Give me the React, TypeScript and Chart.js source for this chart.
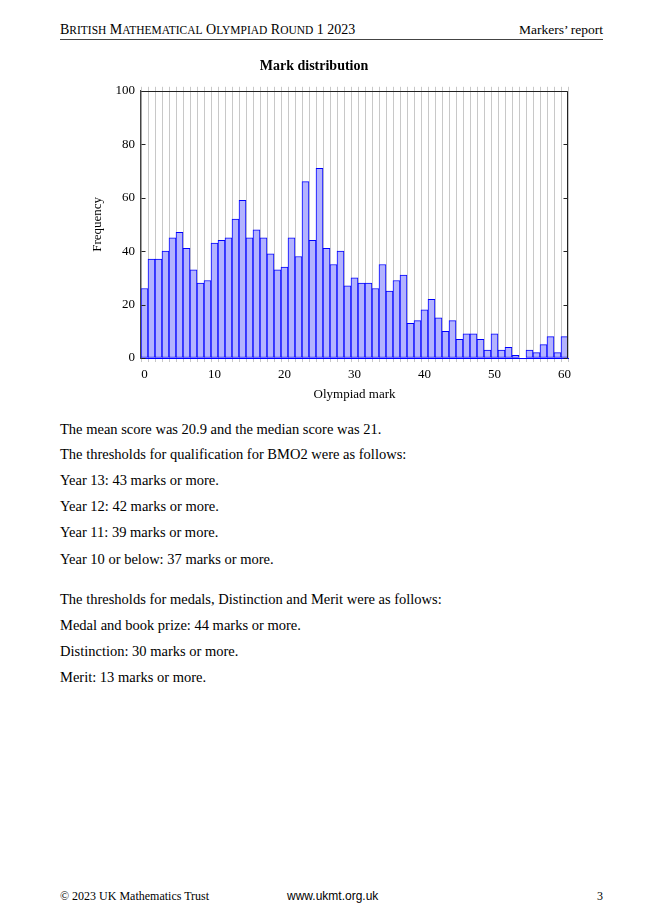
import React, { useEffect, useRef } from "react";
import { Chart, registerables } from "chart.js";

Chart.register(...registerables);

const marks: string[] = [
  "0","1","2","3","4","5","6","7","8","9",
  "10","11","12","13","14","15","16","17","18","19",
  "20","21","22","23","24","25","26","27","28","29",
  "30","31","32","33","34","35","36","37","38","39",
  "40","41","42","43","44","45","46","47","48","49",
  "50","51","52","53","54","55","56","57","58","59","60",
];

const frequency: number[] = [
  26, 37, 37, 40, 45, 47, 41, 33, 28, 29,
  43, 44, 45, 52, 59, 45, 48, 45, 39, 33,
  34, 45, 38, 66, 44, 71, 41, 35, 40, 27,
  30, 28, 28, 26, 35, 25, 29, 31, 13, 14,
  18, 22, 15, 10, 14, 7, 9, 9, 7, 3,
  9, 3, 4, 1, 0, 3, 2, 5, 8, 2, 8,
];

const xTickLabels: string[] = ["0", "10", "20", "30", "40", "50", "60"];
const yTicks: number[] = [0, 20, 40, 60, 80, 100];

const SERIF = "'Liberation Serif', 'Times New Roman', serif";

const framePlugin = {
  id: "frame",
  afterDraw(chart: any) {
    const { ctx, chartArea: a, scales } = chart;
    const x = scales.x;
    const y = scales.y;
    ctx.save();
    const step = x.getPixelForValue(1) - x.getPixelForValue(0);
    ctx.strokeStyle = "#c8c8c8";
    ctx.lineWidth = 1;
    ctx.beginPath();
    for (let i = 0; i <= marks.length; i++) {
      const px = Math.round(x.getPixelForValue(i) - step / 2) + 0.5;
      ctx.moveTo(px, a.top - 4);
      ctx.lineTo(px, a.top);
    }
    ctx.stroke();
    ctx.strokeStyle = "#222";
    ctx.beginPath();
    const l = Math.round(a.left) + 0.5;
    const r = Math.round(a.right) - 0.5;
    const t = Math.round(a.top) + 0.5;
    const b = Math.round(a.bottom);
    ctx.moveTo(r, b);
    ctx.lineTo(r, t);
    ctx.lineTo(l, t);
    yTicks.forEach((v) => {
      const py = Math.round(y.getPixelForValue(v)) + 0.5;
      ctx.moveTo(l, py);
      ctx.lineTo(l + 4, py);
      ctx.moveTo(r, py);
      ctx.lineTo(r - 4, py);
    });
    ctx.stroke();
    ctx.restore();
  },
};

function MarkChart() {
  const ref = useRef<HTMLCanvasElement | null>(null);
  useEffect(() => {
    if (!ref.current) return;
    const chart = new Chart(ref.current, {
      type: "bar",
      data: {
        labels: marks,
        datasets: [
          {
            data: frequency,
            backgroundColor: "#b3b3ff",
            borderColor: "#0000ff",
            borderWidth: 1,
            borderSkipped: false,
            barPercentage: 1,
            categoryPercentage: 1,
          },
        ],
      },
      options: {
        responsive: false,
        animation: false,
        devicePixelRatio: 1,
        layout: { padding: { left: 0, right: 34, top: 0, bottom: 0 } },
        plugins: {
          legend: { display: false },
          tooltip: { enabled: false },
          title: {
            display: true,
            text: "Mark distribution",
            color: "#000",
            font: { family: SERIF, size: 14, weight: "bold" },
            padding: { top: 8, bottom: 16 },
          },
        },
        scales: {
          x: {
            offset: true,
            grid: {
              color: "#c8c8c8",
              drawTicks: true,
              tickLength: 4,
              tickColor: "#c8c8c8",
              offset: true,
              lineWidth: 1,
            },
            border: { color: "#0000ff", width: 1 },
            ticks: {
              autoSkip: false,
              maxRotation: 0,
              padding: 5,
              color: "#000",
              font: { family: SERIF, size: 13 },
              callback: (_v: any, i: number) =>
                xTickLabels.includes(marks[i]) ? marks[i] : "",
            },
            title: {
              display: true,
              text: "Olympiad mark",
              color: "#000",
              font: { family: SERIF, size: 13 },
              padding: { top: 0, bottom: 8 },
            },
            afterFit: (s: any) => {
              s.height = 52;
            },
          },
          y: {
            min: 0,
            max: 100,
            grid: { display: true, drawOnChartArea: false, drawTicks: false },
            border: { color: "#444", width: 1.3 },
            ticks: {
              stepSize: 20,
              padding: 6,
              color: "#000",
              font: { family: SERIF, size: 13 },
            },
            title: {
              display: true,
              text: "Frequency",
              color: "#000",
              font: { family: SERIF, size: 13 },
              padding: { top: 30, bottom: 0 },
            },
            afterFit: (s: any) => {
              s.width = 81;
            },
          },
        },
      },
      plugins: [framePlugin],
    } as any);
    return () => chart.destroy();
  }, []);
  return (
    <canvas
      ref={ref}
      width={542}
      height={360}
      style={{ position: "absolute", left: 60, top: 50, width: 542, height: 360 }}
    />
  );
}

const bodyLines: { text: string; y: number }[] = [
  { text: "The mean score was 20.9 and the median score was 21.", y: 430 },
  { text: "The thresholds for qualification for BMO2 were as follows:", y: 455 },
  { text: "Year 13: 43 marks or more.", y: 481 },
  { text: "Year 12: 42 marks or more.", y: 507 },
  { text: "Year 11: 39 marks or more.", y: 533 },
  { text: "Year 10 or below: 37 marks or more.", y: 560 },
  { text: "The thresholds for medals, Distinction and Merit were as follows:", y: 600 },
  { text: "Medal and book prize: 44 marks or more.", y: 626 },
  { text: "Distinction: 30 marks or more.", y: 652 },
  { text: "Merit: 13 marks or more.", y: 678 },
];

const headerWords: string[] = ["British", "Mathematical", "Olympiad", "Round", "1", "2023"];

function SmallCaps({ words }: { words: string[] }) {
  return (
    <>
      {words.map((w, i) => {
        const isNum = /^[0-9]+$/.test(w);
        return (
          <React.Fragment key={i}>
            {i > 0 ? " " : ""}
            {isNum ? (
              w
            ) : (
              <>
                {w[0]}
                <span style={{ fontSize: "0.82em" }}>{w.slice(1).toUpperCase()}</span>
              </>
            )}
          </React.Fragment>
        );
      })}
    </>
  );
}

export default function App() {
  const txt = (extra: React.CSSProperties): React.CSSProperties => ({
    position: "absolute",
    whiteSpace: "nowrap",
    fontFamily: SERIF,
    color: "#000",
    ...extra,
  });
  return (
    <div style={{ position: "relative", width: 656, height: 917, background: "#fff", overflow: "hidden" }}>
      <style>{`body{margin:0}`}</style>
      <div style={txt({ left: 60, top: 22, fontSize: 14, lineHeight: "16px" })}>
        <SmallCaps words={headerWords} />
      </div>
      <div style={txt({ right: 53, top: 22, fontSize: 13.5, lineHeight: "16px" })}>Markers’ report</div>
      <div style={{ position: "absolute", left: 60, top: 39, width: 543, height: 1, background: "#444" }} />
      <MarkChart />
      {bodyLines.map((l, i) => (
        <div key={i} style={txt({ left: 60, top: l.y - 9, fontSize: 14.5, lineHeight: "16px" })}>
          {l.text}
        </div>
      ))}
      <div style={txt({ left: 60, top: 889, fontSize: 12, lineHeight: "14px" })}>© 2023 UK Mathematics Trust</div>
      <div
        style={txt({
          left: 287,
          top: 889,
          fontSize: 12,
          lineHeight: "14px",
          fontFamily: "'Liberation Sans', Arial, sans-serif",
        })}
      >
        www.ukmt.org.uk
      </div>
      <div style={txt({ right: 53, top: 889, fontSize: 12, lineHeight: "14px" })}>3</div>
    </div>
  );
}
